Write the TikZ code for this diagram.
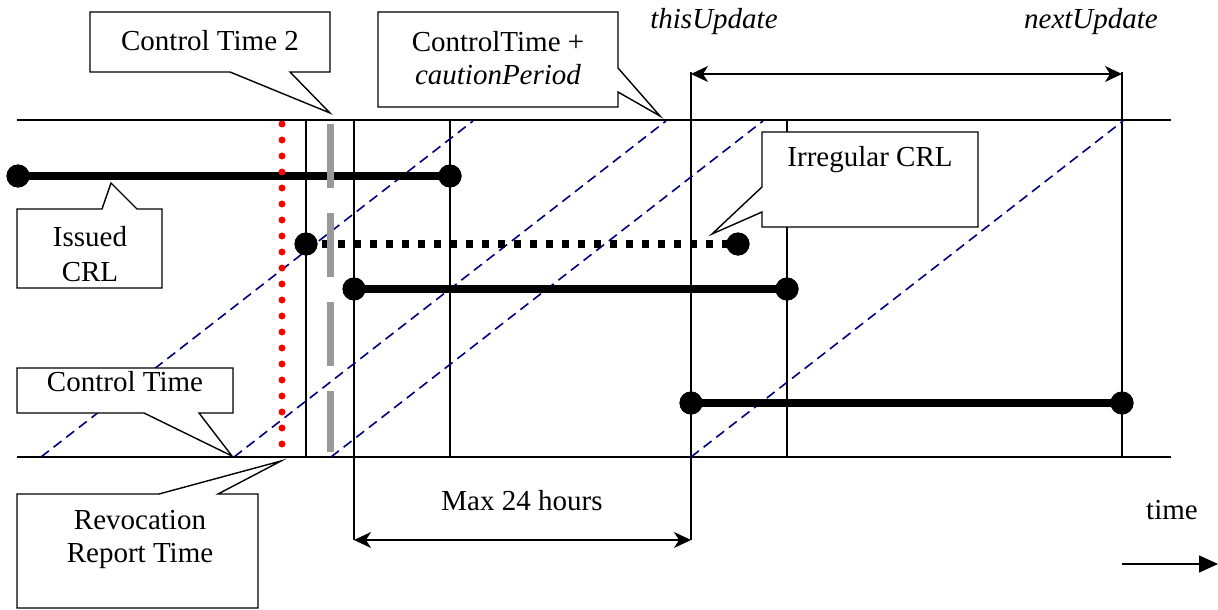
\documentclass[tikz,border=0pt]{standalone}
\usepackage{fontspec}
\setmainfont{Liberation Serif}
\usetikzlibrary{arrows.meta}
\definecolor{navy}{RGB}{0,0,128}
\definecolor{ctgray}{RGB}{153,153,153}

\begin{document}
\begin{tikzpicture}[x=1pt,y=-1pt,
  axis/.style={line width=1.4pt},
  tick/.style={line width=1.4pt},
  crl/.style={line width=7.5pt},
  crldot/.style={circle,fill=black,minimum size=23pt,inner sep=0pt},
  irr/.style={line width=7.5pt,dash pattern=on 7pt off 9pt},
  diag/.style={draw=navy,line width=1.6pt,dash pattern=on 10pt off 6pt},
  revoc/.style={red,line width=7pt,line cap=round,dash pattern=on 0pt off 16pt},
  ctwo/.style={ctgray,line width=7pt,dash pattern=on 64pt off 25pt},
  callout/.style={draw,fill=white,line width=1.4pt,line join=miter},
  lbl/.style={font=\fontsize{29}{33}\selectfont,align=center,inner sep=0pt},
  span/.style={line width=1.4pt,{Stealth[length=17pt,width=16pt,inset=5pt]}-{Stealth[length=17pt,width=16pt,inset=5pt]}},
  timearrow/.style={line width=1.4pt,-{Triangle[length=19pt,width=17pt]}},
]
\useasboundingbox (0,0) rectangle (1218,610);

% time axis: upper and lower rails
\coordinate (tl) at (17,120);  \coordinate (tr) at (1171,120);
\coordinate (bl) at (17,457);  \coordinate (br) at (1171,457);
\draw[axis] (tl) -- (tr);
\draw[axis] (bl) -- (br);

% vertical markers
\coordinate (v1t) at (306,120);  \coordinate (v1b) at (306,457);
\coordinate (v2t) at (354,120);  \coordinate (v2b) at (354,540);
\coordinate (v3t) at (450,120);  \coordinate (v3b) at (450,457);
\coordinate (v4t) at (691,72);   \coordinate (v4b) at (691,540);
\coordinate (v5t) at (787,120);  \coordinate (v5b) at (787,457);
\coordinate (v6t) at (1122,72);  \coordinate (v6b) at (1122,457);
\foreach \i in {1,...,6} \draw[tick] (v\i t) -- (v\i b);

% publication delay diagonals
\coordinate (d1b) at (41,457);   \coordinate (d1t) at (473,121);
\coordinate (d2b) at (234,457);  \coordinate (d2t) at (666,121);
\coordinate (d3b) at (331,457);  \coordinate (d3t) at (763,121);
\coordinate (d4b) at (691,457);  \coordinate (d4t) at (1123,121);
\foreach \i in {1,...,4} \draw[diag] (d\i b) -- (d\i t);

% CRL validity periods
\node[crldot] (c1a) at (18,176) {};   \node[crldot] (c1b) at (450,176) {};
\node[crldot] (c2a) at (306,244) {};  \node[crldot] (c2b) at (738,244) {};
\node[crldot] (c3a) at (354,289) {};  \node[crldot] (c3b) at (787,289) {};
\node[crldot] (c4a) at (691,403) {};  \node[crldot] (c4b) at (1122,403) {};
\draw[crl] (c1a.center) -- (c1b.center);
\draw[irr] (c2a.center) -- (c2b.center);
\draw[crl] (c3a.center) -- (c3b.center);
\draw[crl] (c4a.center) -- (c4b.center);
\foreach \n in {c1a,c1b,c2a,c2b,c3a,c3b,c4a,c4b} \node[crldot] at (\n) {};

% revocation report time and control time 2
\coordinate (rt) at (282,124);  \coordinate (rb) at (282,445);
\draw[revoc] (rt) -- (rb);
\coordinate (gt) at (330,124);  \coordinate (gb) at (330,452);
\draw[ctwo] (gt) -- (gb);

% period arrows
\coordinate (ua) at (691,74);  \coordinate (ub) at (1122,74);
\draw[span] (ua) -- (ub);
\draw[span] (v2b) -- (v4b);
\coordinate (ta) at (1122,564);  \coordinate (tb) at (1218,564);
\draw[timearrow] (ta) -- (tb);

% callouts
\draw[callout] (90,12) -- (330,12) -- (330,72) -- (290,72) -- (330,113)
  -- (230,72) -- (90,72) -- cycle;
\draw[callout] (378,12) -- (618,12) -- (618,68) -- (660,116) -- (618,92)
  -- (618,107) -- (378,107) -- cycle;
\draw[callout] (762,132) -- (978,132) -- (978,227) -- (762,227) -- (762,212)
  -- (712,234) -- (762,187) -- cycle;
\draw[callout] (17,209) -- (102,209) -- (111,183) -- (137,209) -- (162,209)
  -- (162,288) -- (17,288) -- cycle;
\draw[callout] (17,368) -- (233,368) -- (233,413) -- (199,413) -- (232,456)
  -- (144,413) -- (17,413) -- cycle;
\draw[callout] (17,494) -- (159,494) -- (281,461) -- (218,494) -- (258,494)
  -- (258,608) -- (17,608) -- cycle;

% labels
\node[lbl] (ct2) at (210,41) {Control Time 2};
\node[lbl] (ctc) at (498,58) {ControlTime +\\\textit{cautionPeriod}};
\node[lbl] (irl) at (870,160) {Irregular CRL};
\node[lbl,font=\fontsize{29}{35}\selectfont] (icr) at (90,254) {Issued\\CRL};
\node[lbl] (ctm) at (125,382) {Control Time};
\node[lbl] (rrt) at (140,539) {Revocation\\Report Time};
\node[lbl] (m24) at (522,501) {Max 24 hours};
\node[lbl] (tim) at (1172,510) {time};
\node[lbl] (tup) at (714,22) {\textit{thisUpdate}};
\node[lbl] (nup) at (1091,22) {\textit{nextUpdate}};
\end{tikzpicture}
\end{document}
